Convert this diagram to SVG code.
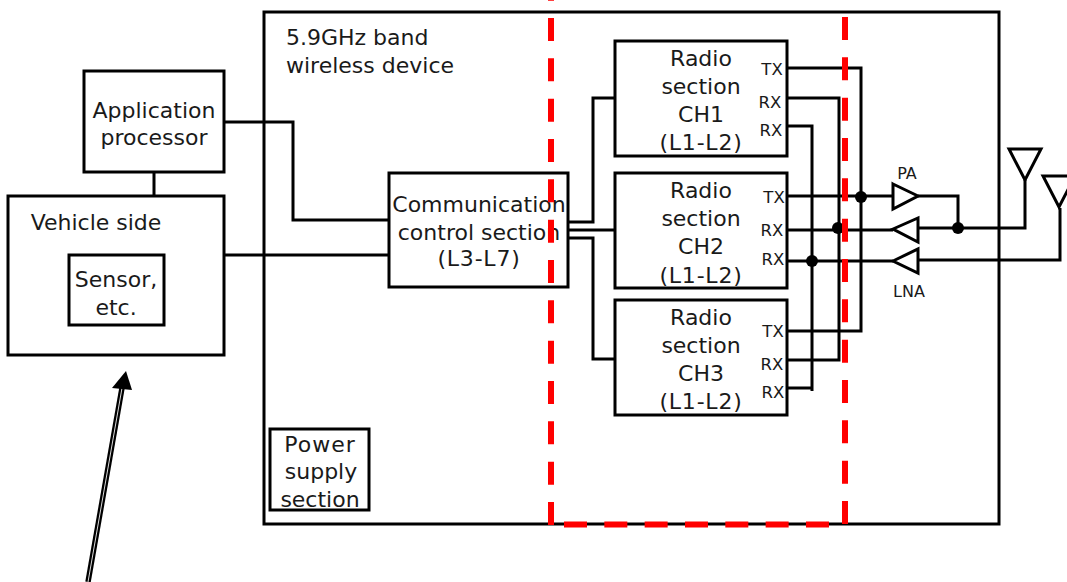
<svg xmlns="http://www.w3.org/2000/svg" width="1067" height="582" viewBox="0 0 1067 582">
<style>
text{font-family:"DejaVu Sans",Verdana,sans-serif;fill:#1a1a1a;text-anchor:middle}
.t{font-size:22px}
.p{font-size:22px;letter-spacing:.8px}
.s{font-size:16.5px}
.a{font-size:16px}
.box{fill:#fff;stroke:#000;stroke-width:3}
.w{fill:none;stroke:#000;stroke-width:3}
.tri{fill:#fff;stroke:#000;stroke-width:3}
.red{fill:none;stroke:#f00;stroke-width:6;stroke-dasharray:23 17.33}
</style>
<g id="main"><rect class="box" x="264" y="12" width="735" height="512"/>
<text class="t" x="286" y="45" style="text-anchor:start">5.9GHz band</text>
<text class="t" x="286" y="73" style="text-anchor:start">wireless device</text></g>
<g id="connectors">
<path class="w" d="M224 122H293V220H389M225 255H389M154 172V196"/>
<path class="w" d="M568 222H593V98H615M568 230H615M568 238H593V359H615"/>
<path class="w" d="M787 68H861V331H787M787 98H839V360H787M787 126H812V391M812 388H787"/>
<path class="w" d="M787 196H893M787 230H893M787 261H893"/>
<path class="w" d="M918 196H958V228M918 228H1025V180M918 260H1060V208"/>
<circle cx="861" cy="197" r="6"/><circle cx="838" cy="228" r="6"/><circle cx="812" cy="261" r="6"/><circle cx="958" cy="228" r="6"/>
</g>
<g id="app"><rect class="box" x="84" y="71" width="140" height="101"/>
<text class="t" x="154" y="118">Application</text><text class="t" x="154" y="145">processor</text></g>
<g id="vehicle"><rect class="box" x="8" y="196" width="216" height="159"/>
<text class="t" x="96" y="230">Vehicle side</text></g>
<g id="sensor"><rect class="box" x="69" y="255" width="95" height="70"/>
<text class="t" x="116" y="287">Sensor,</text><text class="t" x="116" y="315">etc.</text></g>
<g id="power"><rect class="box" x="270" y="429" width="99" height="81"/>
<text class="t" x="320" y="452" style="letter-spacing:1px">Power</text><text class="t" x="321" y="479">supply</text><text class="t" x="320" y="507">section</text></g>
<g id="comm"><rect fill="none" stroke="#000" stroke-width="3" x="389" y="173" width="179" height="114"/>
<text class="t" x="479" y="212">Communication</text><text class="t" x="479" y="240">control section</text><text class="p" x="479" y="266">(L3-L7)</text></g>
<g id="ch1"><rect class="box" x="615" y="41" width="172" height="115"/>
<text class="t" x="701" y="66">Radio</text><text class="t" x="701" y="94">section</text><text class="t" x="701" y="122">CH1</text><text class="p" x="701" y="150">(L1-L2)</text>
<text class="s" x="772" y="75">TX</text><text class="s" x="770" y="108">RX</text><text class="s" x="771" y="136">RX</text></g>
<g id="ch2"><rect class="box" x="615" y="173" width="172" height="115"/>
<text class="t" x="701" y="198">Radio</text><text class="t" x="701" y="226">section</text><text class="t" x="701" y="254">CH2</text><text class="p" x="701" y="283">(L1-L2)</text>
<text class="s" x="774" y="203">TX</text><text class="s" x="772" y="236">RX</text><text class="s" x="773" y="265">RX</text></g>
<g id="ch3"><rect class="box" x="615" y="300" width="172" height="115"/>
<text class="t" x="701" y="325">Radio</text><text class="t" x="701" y="353">section</text><text class="t" x="701" y="381">CH3</text><text class="p" x="701" y="409">(L1-L2)</text>
<text class="s" x="773" y="337">TX</text><text class="s" x="772" y="370">RX</text><text class="s" x="773" y="398">RX</text></g>
<g id="pa"><polygon class="tri" points="893,184 918,196 893,209"/><text class="a" x="907" y="179">PA</text></g>
<g id="rxamp"><polygon class="tri" points="893,229 918,218 918,242"/></g>
<g id="lna"><polygon class="tri" points="893,261 918,249 918,273"/><text class="a" x="909" y="297">LNA</text></g>
<g id="ant1"><polygon class="tri" points="1009,149 1041,149 1025,180"/></g>
<g id="ant2"><polygon class="tri" points="1043,176 1075,176 1059,207"/></g>
<g id="boundary"><path class="red" d="M551 -22.3V525"/><path class="red" d="M845 17V525"/><path class="red" d="M564 524.5H845"/></g>
<g id="arrow"><path fill="none" stroke="#000" stroke-width="5.5" d="M88 582L122 388"/><path fill="none" stroke="#ddd" stroke-width="1" d="M88 582L122 388"/><polygon points="126,371 132,390 112,388"/></g>
</svg>
